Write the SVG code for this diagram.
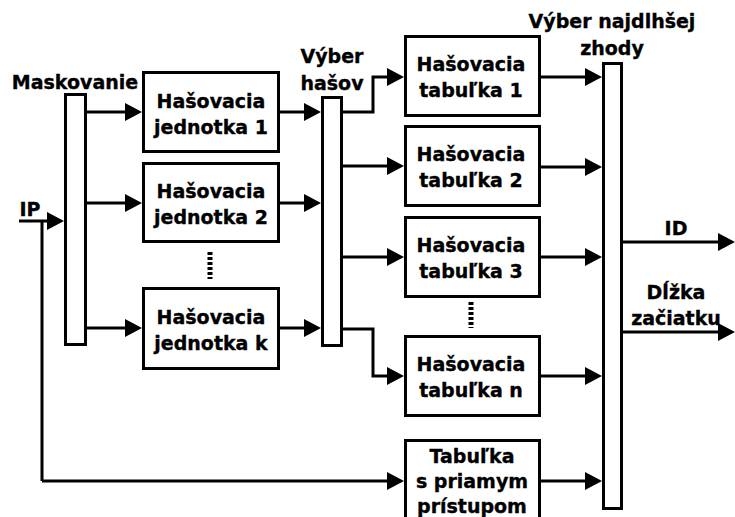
<svg xmlns="http://www.w3.org/2000/svg" width="735" height="517" viewBox="0 0 735 517">
<defs>
<style>
.box{fill:#fff;stroke:#000;stroke-width:3}
.ln{fill:none;stroke:#000;stroke-width:3}
.ar{fill:none;stroke:#000;stroke-width:3;marker-end:url(#ah)}
.t{font-family:"DejaVu Sans",Verdana,sans-serif;font-weight:bold;font-size:19px;fill:#000;stroke:#000;stroke-width:0.35;text-anchor:middle}
.dots{stroke:#000;stroke-width:5;stroke-dasharray:3 2;fill:none}
</style>
<marker id="ah" markerUnits="userSpaceOnUse" markerWidth="18" markerHeight="18" refX="7" refY="9" orient="auto" overflow="visible">
<path d="M0,0 L17,9 L0,18 Z" fill="#000"/>
</marker>
</defs>
<rect width="735" height="517" fill="#fff"/>

<g id="connectors">
<path class="ar" d="M19 221 H54"/>
<path class="ln" d="M42 221 V481"/>
<path class="ar" d="M42 481 H394"/>
<path class="ar" d="M87 112 H132"/>
<path class="ar" d="M87 203 H132"/>
<path class="ar" d="M87 328 H132"/>
<path class="ar" d="M280 112 H311"/>
<path class="ar" d="M280 203 H311"/>
<path class="ar" d="M280 328 H311"/>
<path class="ar" d="M343 112 H373 V77 H394"/>
<path class="ar" d="M343 166 H394"/>
<path class="ar" d="M343 257 H394"/>
<path class="ar" d="M343 329 H373 V376 H394"/>
<path class="ar" d="M541 77 H592"/>
<path class="ar" d="M541 167 H592"/>
<path class="ar" d="M541 257 H592"/>
<path class="ar" d="M541 376 H592"/>
<path class="ar" d="M541 481 H592"/>
<path class="ar" d="M623 242 H725"/>
<path class="ar" d="M623 332 H725"/>
<path class="dots" d="M210 252 V279"/>
<path class="dots" d="M471 302 V328"/>
</g>

<g id="maskovanie">
<rect class="box" x="65.5" y="94.5" width="20" height="250"/>
<text class="t" x="75" y="89">Maskovanie</text>
</g>
<g id="ip">
<text class="t" x="30" y="216">IP</text>
</g>

<g id="hu1">
<rect class="box" x="143.5" y="72.5" width="135" height="79"/>
<text class="t" x="211" y="108">Hašovacia</text>
<text class="t" x="211" y="134">jednotka 1</text>
</g>
<g id="hu2">
<rect class="box" x="143.5" y="163.5" width="135" height="78"/>
<text class="t" x="211" y="198">Hašovacia</text>
<text class="t" x="211" y="224">jednotka 2</text>
</g>
<g id="huk">
<rect class="box" x="143.5" y="288.5" width="135" height="80"/>
<text class="t" x="211" y="324">Hašovacia</text>
<text class="t" x="211" y="350">jednotka k</text>
</g>

<g id="vyber-hasov">
<rect class="box" x="322.5" y="97.5" width="19" height="248"/>
<text class="t" x="332" y="63">Výber</text>
<text class="t" x="332" y="90">hašov</text>
</g>

<g id="t1">
<rect class="box" x="405.5" y="36.5" width="134" height="79"/>
<text class="t" x="471" y="71">Hašovacia</text>
<text class="t" x="471" y="97">tabuľka 1</text>
</g>
<g id="t2">
<rect class="box" x="405.5" y="126.5" width="134" height="79"/>
<text class="t" x="471" y="161">Hašovacia</text>
<text class="t" x="471" y="187">tabuľka 2</text>
</g>
<g id="t3">
<rect class="box" x="405.5" y="217.5" width="134" height="79"/>
<text class="t" x="471" y="252">Hašovacia</text>
<text class="t" x="471" y="278">tabuľka 3</text>
</g>
<g id="tn">
<rect class="box" x="405.5" y="336.5" width="134" height="79"/>
<text class="t" x="471" y="371">Hašovacia</text>
<text class="t" x="471" y="397">tabuľka n</text>
</g>
<g id="td">
<rect class="box" x="405.5" y="440.5" width="134" height="90"/>
<text class="t" x="472" y="463">Tabuľka</text>
<text class="t" x="472" y="488">s priamym</text>
<text class="t" x="472" y="513">prístupom</text>
</g>

<g id="vyber-zhody">
<rect class="box" x="603.5" y="63.5" width="18" height="445"/>
<text class="t" x="612" y="28">Výber najdlhšej</text>
<text class="t" x="612" y="55">zhody</text>
</g>

<g id="outputs">
<text class="t" x="676" y="235">ID</text>
<text class="t" x="676" y="299">Dĺžka</text>
<text class="t" x="676" y="325">začiatku</text>
</g>
</svg>
